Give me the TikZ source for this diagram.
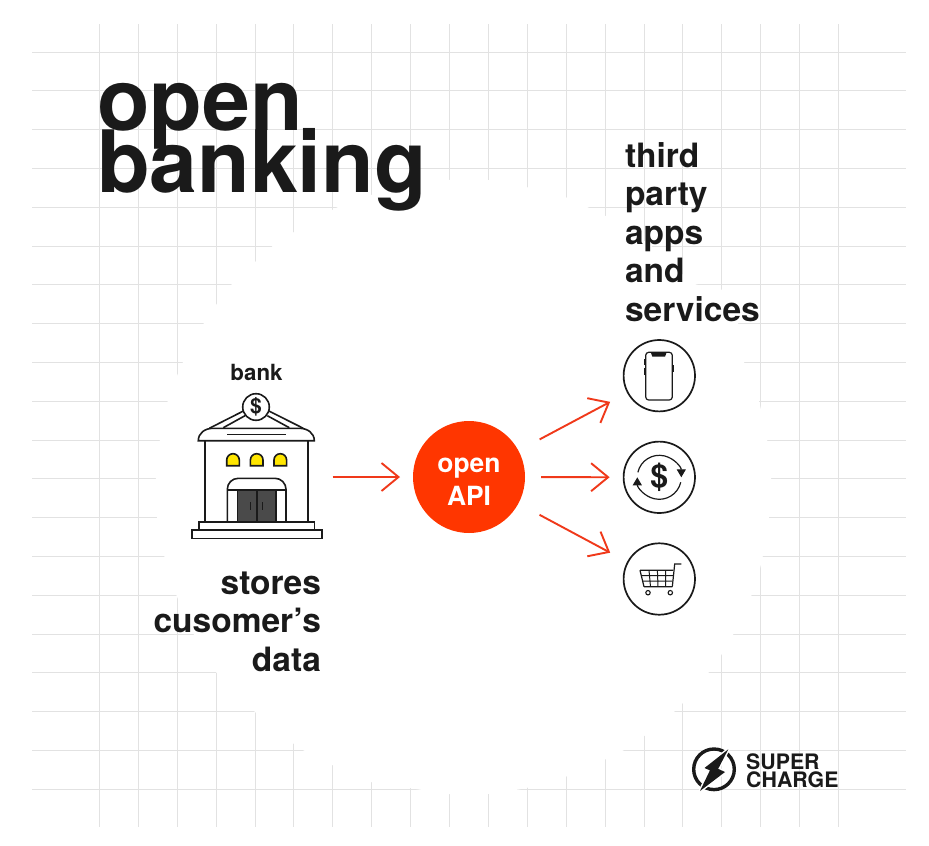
\documentclass[tikz,border=0pt]{standalone}
\usepackage{fontspec}
\setmainfont{TeX Gyre Heros}
\usepackage{tikz}
\usetikzlibrary{arrows.meta}
\setlength{\lineskiplimit}{-100pt}
\definecolor{inkblack}{HTML}{1A1A1A}
\definecolor{apired}{HTML}{FF3600}
\definecolor{flowred}{HTML}{F0391A}
\definecolor{gridgray}{HTML}{E2E2E2}
\definecolor{doorgray}{HTML}{4A4A4A}
\definecolor{lampyellow}{HTML}{FFE600}
\tikzset{
    gridline/.style={gridgray,line width=0.7pt},
    headtext/.style={inner sep=0pt,outer sep=0pt,text=inkblack,font=\fontsize{33.5}{38.4}\selectfont\bfseries},
    flow/.style={flowred,line width=1.9pt,-{Straight Barb[length=17pt,width=28pt]}},
    iconcircle/.style={circle,draw=inkblack,line width=1.7pt,fill=white,minimum size=71.4pt,inner sep=0pt,outer sep=0pt},
    wallline/.style={draw=inkblack,line width=1.6pt},
    iconline/.style={draw=inkblack,line width=1.2pt}
}
\begin{document}
\begin{tikzpicture}[x=1pt,y=1pt]
    \useasboundingbox (0,0) rectangle (929,-846);
    \fill[white] (0,0) rectangle (929,-846);
    % grid
    \foreach \i in {0,...,19}{
        \draw[gridline] ({99.3+38.9*\i},-24) -- ({99.3+38.9*\i},-827);
        \draw[gridline] (32,{-52-38.8*\i}) -- (906,{-52-38.8*\i});
    }
    \fill[white] plot[smooth cycle,tension=0.4] coordinates {(156,-478) (160,-439) (168,-400) (183,-362) (204,-323) (216,-305) (232,-284) (255,-262) (274,-245) (294,-232) (338,-207) (371,-195) (410,-185) (449,-180) (487,-180) (526,-187) (565,-197) (587,-207) (604,-215) (650,-245) (693,-283) (722,-290) (738,-323) (744,-362) (759,-402) (767,-439) (771,-478) (769,-517) (763,-555) (759,-572) (752,-594) (734,-633) (720,-657) (709,-672) (682,-704) (675,-711) (643,-737) (624,-750) (604,-760) (565,-777) (526,-788) (487,-794) (449,-794) (410,-788) (371,-782) (332,-765) (303,-750) (294,-744) (254,-711) (216,-672) (193,-633) (176,-594) (164,-555) (157,-517)};
    % texts
    \node[inner sep=0pt,text=inkblack,anchor=base west,align=left,font=\fontsize{86}{62}\selectfont\bfseries] (title) at (97,-192) {open\\banking};
    \node[headtext,anchor=base west,align=left] (thirdparty) at (625,-321) {third\\party\\apps\\and\\services};
    \node[headtext,anchor=base east,align=right] (stores) at (321,-671) {stores\\cusomer’s\\data};
    \node[inner sep=0pt,text=inkblack,anchor=base,font=\fontsize{22.3}{26}\selectfont\bfseries] (banklabel) at (256.5,-380) {bank};
    % bank
    \node[minimum width=130pt,minimum height=122pt,inner sep=0pt,outer sep=0pt] (bank) at (256.7,-477) {};
    \draw[wallline] (205,-440.7) -- (205,-521.7) (307.7,-440.7) -- (307.7,-521.7);
    \draw[wallline] (209.3,-428.3) -- (244,-410.7) (223.3,-427.7) -- (245,-415.7) (303.3,-428.3) -- (268.3,-410.7) (289.3,-427.7) -- (267.3,-415.7);
    \draw[wallline,fill=white] (198.3,-440.7) .. controls (198.3,-433) and (205,-428.3) .. (213,-428.3) -- (299.5,-428.3) .. controls (307.5,-428.3) and (314.3,-433) .. (314.3,-440.7) -- cycle;
    \draw[wallline] (227.3,-434.3) -- (286,-434.3);
    \node[circle,draw=inkblack,line width=1.6pt,fill=white,minimum size=26.6pt,inner sep=0pt,text=inkblack,font=\fontsize{21}{21}\selectfont\bfseries] (banksign) at (256,-407) {\$};
    \foreach \x in {233,256.7,280.3}{
        \draw[wallline,fill=lampyellow] ({\x-6.3},-465.7) -- ({\x-6.3},-460) arc (180:0:6.3) -- ({\x+6.3},-465.7) -- cycle;
    }
    \draw[wallline,rounded corners=11pt] (227.3,-521.7) -- (227.3,-478.3) -- (286,-478.3) -- (286,-521.7);
    \draw[wallline] (227.3,-490) -- (286,-490);
    \draw[wallline,fill=doorgray] (237.3,-490) rectangle (276,-521.7);
    \draw[wallline] (256.7,-490) -- (256.7,-521.7);
    \draw[inkblack,line width=1.1pt] (250.3,-502.3) -- (250.3,-510) (262.3,-502.3) -- (262.3,-510);
    \draw[wallline,fill=white] (199,-521.7) rectangle (314.3,-530);
    \draw[wallline,fill=white] (191.7,-530) rectangle (321.7,-538.3);
    % api and services
    \node[circle,fill=apired,minimum size=112pt,inner sep=0pt,outer sep=0pt] (api) at (469,-477) {};
    \node[inner sep=0pt,text=white,anchor=base,align=center,font=\fontsize{26.4}{33}\selectfont\bfseries] (apitext) at (469,-505) {open\\API};
    \node[iconcircle] (phone) at (659.3,-375.7) {};
    \node[iconcircle] (money) at (659.3,-477.3) {};
    \node[iconcircle] (cart) at (659.3,-579) {};
    \draw[flow,shorten <=11pt,shorten >=13pt] (bank) -- (api);
    \draw[flow,shorten <=24pt,shorten >=20pt] (api) -- (phone);
    \draw[flow,shorten <=16pt,shorten >=14pt] (api) -- (money);
    \draw[flow,shorten <=24pt,shorten >=20pt] (api) -- (cart);
    % phone icon
    \draw[iconline,rounded corners=3pt] (645.7,-352.3) rectangle (672.3,-400);
    \fill[inkblack] (650.7,-352.3) -- (666.7,-352.3) -- (665,-356.7) -- (652.4,-356.7) -- cycle;
    \draw[inkblack,line width=1.8pt] (644.5,-359) -- (644.5,-365) (644.5,-368) -- (644.5,-375) (673.5,-365) -- (673.5,-372);
    % money icon
    \node[inner sep=0pt,text=inkblack,font=\fontsize{32}{32}\selectfont\bfseries] (dollar) at (659.3,-477.3) {\$};
    \begin{scope}[shift={(659.3,-477.3)}]
        \draw[inkblack,line width=1.2pt,-{Triangle[length=8pt,width=9pt]}] (167:22) arc (167:0:22);
        \draw[inkblack,line width=1.2pt,-{Triangle[length=8pt,width=9pt]}] (-13:22) arc (-13:-180:22);
    \end{scope}
    % cart icon
    \draw[iconline] (640,-570.3) -- (673,-570.3) (644,-586.7) -- (672.3,-586.7) (640,-570.3) -- (644,-586.7);
    \draw[iconline] (672.3,-586.7) -- (674.7,-564) -- (681.3,-564);
    \draw[inkblack,line width=1pt] (641.3,-575.5) -- (673,-575.5) (642.6,-581) -- (672.7,-581) (649,-570.3) -- (650.5,-586.7) (657.4,-570.3) -- (658,-586.7) (665.5,-570.3) -- (665.5,-586.7);
    \draw[inkblack,line width=1.1pt] (648,-592.7) circle (2.2) (670.3,-592.7) circle (2.2);
    % logo
    \draw[inkblack,line width=3.4pt] (714,-769.3) circle (20.3);
    \draw[white,fill=white,line width=3pt] (728.3,-749.3) -- (704.5,-768) -- (716,-773) -- cycle;
    \draw[white,fill=white,line width=3pt] (700,-791) -- (725,-772) -- (712,-766) -- cycle;
    \fill[inkblack] (728.3,-749.3) -- (704.5,-768) -- (716,-773) -- cycle;
    \fill[inkblack] (700,-791) -- (725,-772) -- (712,-766) -- cycle;
    \node[inner sep=0pt,text=inkblack,anchor=base west,align=left,font=\fontsize{21.3}{18}\selectfont\bfseries] (logotext) at (746,-787) {SUPER\\CHARGE};
\end{tikzpicture}
\end{document}
